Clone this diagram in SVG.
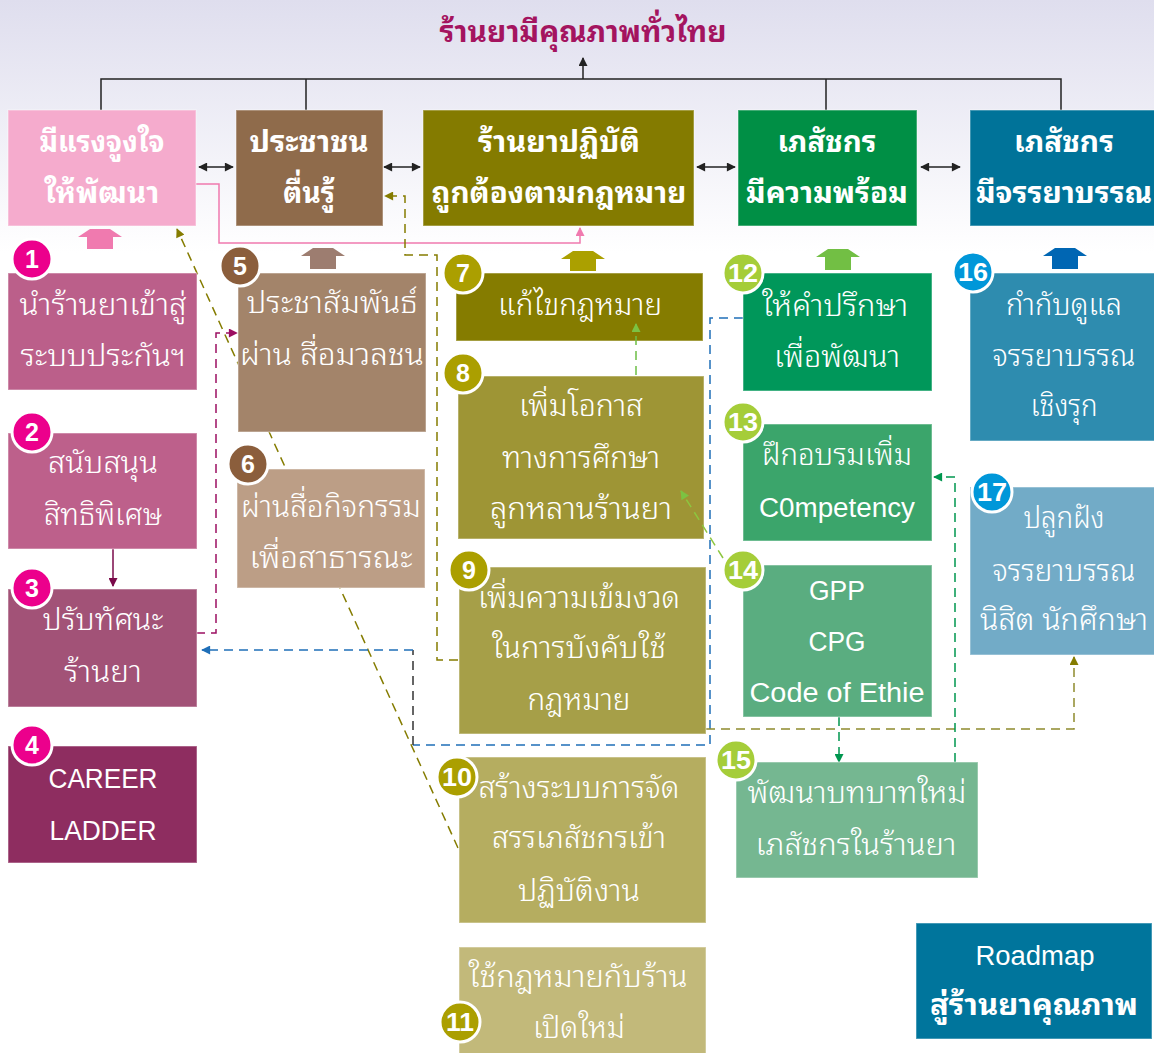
<svg xmlns="http://www.w3.org/2000/svg" width="1154" height="1053" viewBox="0 0 1154 1053">
<defs>
<linearGradient id="bg" x1="0" y1="0" x2="0" y2="1053" gradientUnits="userSpaceOnUse">
<stop offset="0" stop-color="#dfdeee"/><stop offset="0.24" stop-color="#ffffff"/><stop offset="1" stop-color="#ffffff"/>
</linearGradient>
<marker id="aK" viewBox="0 0 10 10" refX="9" refY="5" markerWidth="10" markerHeight="9" markerUnits="userSpaceOnUse" orient="auto-start-reverse"><path d="M0,0 L10,5 L0,10 Z" fill="#222"/></marker>
<marker id="aP" viewBox="0 0 10 10" refX="9" refY="5" markerWidth="10" markerHeight="9" markerUnits="userSpaceOnUse" orient="auto"><path d="M0,0 L10,5 L0,10 Z" fill="#f07aaf"/></marker>
<marker id="aO" viewBox="0 0 10 10" refX="9" refY="5" markerWidth="10" markerHeight="9" markerUnits="userSpaceOnUse" orient="auto"><path d="M0,0 L10,5 L0,10 Z" fill="#857c00"/></marker>
<marker id="aM" viewBox="0 0 10 10" refX="9" refY="5" markerWidth="10" markerHeight="9" markerUnits="userSpaceOnUse" orient="auto"><path d="M0,0 L10,5 L0,10 Z" fill="#9c0f62"/></marker>
<marker id="aB" viewBox="0 0 10 10" refX="9" refY="5" markerWidth="10" markerHeight="9" markerUnits="userSpaceOnUse" orient="auto"><path d="M0,0 L10,5 L0,10 Z" fill="#1f6fb8"/></marker>
<marker id="aG" viewBox="0 0 10 10" refX="9" refY="5" markerWidth="10" markerHeight="9" markerUnits="userSpaceOnUse" orient="auto"><path d="M0,0 L10,5 L0,10 Z" fill="#00964f"/></marker>
<marker id="aL" viewBox="0 0 10 10" refX="9" refY="5" markerWidth="10" markerHeight="9" markerUnits="userSpaceOnUse" orient="auto"><path d="M0,0 L10,5 L0,10 Z" fill="#7cc242"/></marker>
<marker id="aD" viewBox="0 0 10 10" refX="9" refY="5" markerWidth="10" markerHeight="9" markerUnits="userSpaceOnUse" orient="auto"><path d="M0,0 L10,5 L0,10 Z" fill="#7a0a4a"/></marker>
</defs>
<style>
.t{font-family:"Noto Sans Thai Looped","Noto Sans Thai","Noto Sans","DejaVu Sans",sans-serif;fill:#fff;font-size:30px;font-weight:300;text-anchor:middle}
.b{font-weight:bold}
.lat{font-family:"Liberation Sans",Arial,sans-serif;font-size:27px;fill:#fff;text-anchor:middle}
.num{font-family:"Liberation Sans",Arial,sans-serif;font-weight:bold;font-size:25px;fill:#fff;text-anchor:middle}
.box{stroke:#ffffff;stroke-opacity:0.35;stroke-width:1.5}
.c{stroke:#fff;stroke-width:3}
.ln{fill:none;stroke-width:1.5}
.dash{stroke-dasharray:9 6}
</style>
<rect x="0" y="0" width="1154" height="1053" fill="url(#bg)"/>

<text x="583" y="42" class="t b" style="fill:#a4145f;font-size:30px" textLength="287" lengthAdjust="spacingAndGlyphs">ร้านยามีคุณภาพทั่วไทย</text>

<g id="connectors">
<path class="ln" stroke="#222" d="M101,110 V79 H1061 V110 M306,79 V110 M826,79 V110"/>
<path class="ln" stroke="#222" d="M583,79 V58" marker-end="url(#aK)"/>
<path class="ln" stroke="#222" d="M199,167 H233" marker-start="url(#aK)" marker-end="url(#aK)"/>
<path class="ln" stroke="#222" d="M384,167 H420" marker-start="url(#aK)" marker-end="url(#aK)"/>
<path class="ln" stroke="#222" d="M697,167 H735" marker-start="url(#aK)" marker-end="url(#aK)"/>
<path class="ln" stroke="#222" d="M921,167 H960" marker-start="url(#aK)" marker-end="url(#aK)"/>
<path class="ln" stroke="#f07aaf" d="M196,184 H219 V243 H580 V228" marker-end="url(#aP)"/>
<path class="ln dash" stroke="#857c00" d="M458,848 L177,229" marker-end="url(#aO)"/>
<path class="ln dash" stroke="#857c00" d="M458,660 H437 V255 H405 V196 H385" marker-end="url(#aO)"/>
<path class="ln dash" stroke="#9c0f62" d="M196,633 H216 V333 H237" marker-end="url(#aM)"/>
<path class="ln dash" stroke="#1f6fb8" d="M743,318 H710 V745 H413"/>
<path class="ln dash" stroke="#333" d="M413,745 V650"/>
<path class="ln dash" stroke="#1f6fb8" d="M413,650 H202" marker-end="url(#aB)"/>
<path class="ln dash" stroke="#8f8a2e" d="M706,729 H1074 V657" marker-end="url(#aO)"/>
<path class="ln dash" stroke="#00964f" d="M839,717 V762" marker-end="url(#aG)"/>
<path class="ln dash" stroke="#00964f" d="M955,762 V477 H934" marker-end="url(#aG)"/>
<path class="ln" stroke="#7a0a4a" d="M113,549 V586" marker-end="url(#aD)"/>
</g>

<g id="top1"><rect x="8" y="110" width="188" height="116" fill="#f5abcd" class="box"/>
<text x="102" y="152" class="t b" textLength="125" lengthAdjust="spacingAndGlyphs">มีแรงจูงใจ</text>
<text x="102" y="203" class="t b" textLength="115" lengthAdjust="spacingAndGlyphs">ให้พัฒนา</text></g>
<g id="top2"><rect x="236" y="110" width="147" height="116" fill="#8f6b4b" class="box"/>
<text x="309" y="152" class="t b" textLength="119" lengthAdjust="spacingAndGlyphs">ประชาชน</text>
<text x="309" y="203" class="t b" textLength="52" lengthAdjust="spacingAndGlyphs">ตื่นรู้</text></g>
<g id="top3"><rect x="423" y="110" width="271" height="116" fill="#847b00" class="box"/>
<text x="559" y="152" class="t b" textLength="162" lengthAdjust="spacingAndGlyphs">ร้านยาปฏิบัติ</text>
<text x="559" y="203" class="t b" textLength="255" lengthAdjust="spacingAndGlyphs">ถูกต้องตามกฎหมาย</text></g>
<g id="top4"><rect x="738" y="110" width="179" height="116" fill="#008f45" class="box"/>
<text x="827" y="152" class="t b" textLength="99" lengthAdjust="spacingAndGlyphs">เภสัชกร</text>
<text x="827" y="203" class="t b" textLength="162" lengthAdjust="spacingAndGlyphs">มีความพร้อม</text></g>
<g id="top5"><rect x="970" y="110" width="186" height="116" fill="#007399" class="box"/>
<text x="1064" y="152" class="t b" textLength="100" lengthAdjust="spacingAndGlyphs">เภสัชกร</text>
<text x="1064" y="203" class="t b" textLength="176" lengthAdjust="spacingAndGlyphs">มีจรรยาบรรณ</text></g>

<g id="up-arrows">
<polygon fill="#f07aaf" points="78,237 90,229 110,229 122,237 113,237 113,249 87,249 87,237"/>
<polygon fill="#9d7d70" points="301,256 313,248 333,248 345,256 336,256 336,269 310,269 310,256"/>
<polygon fill="#aba000" points="561,259 573,251 593,251 605,259 596,259 596,271 570,271 570,259"/>
<polygon fill="#72bf44" points="816,257 828,249 848,249 860,257 851,257 851,270 825,270 825,257"/>
<polygon fill="#0066b3" points="1043,256 1055,248 1075,248 1087,256 1078,256 1078,269 1052,269 1052,256"/>
</g>

<g id="n1"><rect x="8" y="273" width="189" height="117" fill="#bb5f8a" class="box"/>
<text x="103" y="315" class="t" textLength="167" lengthAdjust="spacingAndGlyphs">นำร้านยาเข้าสู่</text>
<text x="103" y="366" class="t" textLength="165" lengthAdjust="spacingAndGlyphs">ระบบประกันฯ</text>
<circle cx="32" cy="259" r="20" fill="#ec008c" class="c"/><text x="32" y="268" class="num">1</text></g>
<g id="n2"><rect x="8" y="433" width="189" height="116" fill="#bd608b" class="box"/>
<text x="103" y="473" class="t" textLength="110" lengthAdjust="spacingAndGlyphs">สนับสนุน</text>
<text x="103" y="525" class="t" textLength="118" lengthAdjust="spacingAndGlyphs">สิทธิพิเศษ</text>
<circle cx="32" cy="432" r="20" fill="#ec008c" class="c"/><text x="32" y="441" class="num">2</text></g>
<g id="n3"><rect x="8" y="589" width="189" height="118" fill="#a25277" class="box"/>
<text x="103" y="630" class="t" textLength="121" lengthAdjust="spacingAndGlyphs">ปรับทัศนะ</text>
<text x="103" y="682" class="t" textLength="78" lengthAdjust="spacingAndGlyphs">ร้านยา</text>
<circle cx="32" cy="588" r="20" fill="#ec008c" class="c"/><text x="32" y="597" class="num">3</text></g>
<g id="n4"><rect x="8" y="746" width="189" height="117" fill="#8e2d60" class="box"/>
<text x="103" y="788" class="lat" textLength="109" lengthAdjust="spacingAndGlyphs">CAREER</text>
<text x="103" y="840" class="lat" textLength="107" lengthAdjust="spacingAndGlyphs">LADDER</text>
<circle cx="32" cy="745" r="20" fill="#ec008c" class="c"/><text x="32" y="754" class="num">4</text></g>

<g id="n5"><rect x="238" y="273" width="188" height="159" fill="#a3846a" class="box"/>
<text x="332" y="313" class="t" textLength="171" lengthAdjust="spacingAndGlyphs">ประชาสัมพันธ์</text>
<text x="332" y="365" class="t" textLength="184" lengthAdjust="spacingAndGlyphs">ผ่าน สื่อมวลชน</text>
<circle cx="240" cy="266" r="20" fill="#8b5e3c" class="c"/><text x="240" y="275" class="num">5</text></g>
<g id="n6"><rect x="237" y="469" width="188" height="119" fill="#bc9e86" class="box"/>
<text x="331" y="517" class="t" textLength="180" lengthAdjust="spacingAndGlyphs">ผ่านสื่อกิจกรรม</text>
<text x="331" y="568" class="t" textLength="163" lengthAdjust="spacingAndGlyphs">เพื่อสาธารณะ</text>
<circle cx="248" cy="464" r="20" fill="#8b5e3c" class="c"/><text x="248" y="473" class="num">6</text></g>

<g id="n7"><rect x="456" y="273" width="247" height="68" fill="#857c00" class="box"/>
<text x="580" y="315" class="t" textLength="164" lengthAdjust="spacingAndGlyphs">แก้ไขกฎหมาย</text>
<circle cx="463" cy="273" r="20" fill="#ab9f00" class="c"/><text x="463" y="282" class="num">7</text></g>
<g id="n8"><rect x="458" y="376" width="246" height="163" fill="#9e9535" class="box"/>
<text x="581" y="416" class="t" textLength="124" lengthAdjust="spacingAndGlyphs">เพิ่มโอกาส</text>
<text x="581" y="468" class="t" textLength="158" lengthAdjust="spacingAndGlyphs">ทางการศึกษา</text>
<text x="581" y="519" class="t" textLength="182" lengthAdjust="spacingAndGlyphs">ลูกหลานร้านยา</text>
<circle cx="463" cy="373" r="20" fill="#ab9f00" class="c"/><text x="463" y="382" class="num">8</text></g>
<g id="n9"><rect x="459" y="567" width="247" height="167" fill="#a69f48" class="box"/>
<text x="579" y="608" class="t" textLength="202" lengthAdjust="spacingAndGlyphs">เพิ่มความเข้มงวด</text>
<text x="579" y="658" class="t" textLength="174" lengthAdjust="spacingAndGlyphs">ในการบังคับใช้</text>
<text x="579" y="710" class="t" textLength="103" lengthAdjust="spacingAndGlyphs">กฎหมาย</text>
<circle cx="469" cy="570" r="20" fill="#ab9f00" class="c"/><text x="469" y="579" class="num">9</text></g>
<g id="n10"><rect x="459" y="757" width="247" height="166" fill="#b5ad60" class="box"/>
<text x="579" y="798" class="t" textLength="201" lengthAdjust="spacingAndGlyphs">สร้างระบบการจัด</text>
<text x="579" y="848" class="t" textLength="174" lengthAdjust="spacingAndGlyphs">สรรเภสัชกรเข้า</text>
<text x="579" y="901" class="t" textLength="122" lengthAdjust="spacingAndGlyphs">ปฏิบัติงาน</text>
<circle cx="457" cy="777" r="20" fill="#ab9f00" class="c"/><text x="457" y="786" class="num" textLength="30" lengthAdjust="spacingAndGlyphs">10</text></g>
<g id="n11"><rect x="459" y="947" width="247" height="108" fill="#c2b97a" class="box"/>
<text x="578" y="987" class="t" textLength="219" lengthAdjust="spacingAndGlyphs">ใช้กฎหมายกับร้าน</text>
<text x="579" y="1038" class="t" textLength="92" lengthAdjust="spacingAndGlyphs">เปิดใหม่</text>
<circle cx="460" cy="1022" r="20" fill="#ab9f00" class="c"/><text x="460" y="1031" class="num" textLength="28" lengthAdjust="spacingAndGlyphs">11</text></g>

<g id="n12"><rect x="743" y="273" width="189" height="118" fill="#00975a" class="box"/>
<text x="835" y="316" class="t" textLength="146" lengthAdjust="spacingAndGlyphs">ให้คำปรึกษา</text>
<text x="837" y="367" class="t" textLength="126" lengthAdjust="spacingAndGlyphs">เพื่อพัฒนา</text>
<circle cx="743" cy="273" r="20" fill="#a5cd39" class="c"/><text x="743" y="282" class="num" textLength="30" lengthAdjust="spacingAndGlyphs">12</text></g>
<g id="n13"><rect x="743" y="424" width="189" height="117" fill="#3ba56b" class="box"/>
<text x="837" y="465" class="t" textLength="150" lengthAdjust="spacingAndGlyphs">ฝึกอบรมเพิ่ม</text>
<text x="837" y="517" class="lat" textLength="156" lengthAdjust="spacingAndGlyphs">C0mpetency</text>
<circle cx="743" cy="422" r="20" fill="#a5cd39" class="c"/><text x="743" y="431" class="num" textLength="30" lengthAdjust="spacingAndGlyphs">13</text></g>
<g id="n14"><rect x="743" y="565" width="189" height="152" fill="#5aad80" class="box"/>
<text x="837" y="600" class="lat" textLength="56" lengthAdjust="spacingAndGlyphs">GPP</text>
<text x="837" y="651" class="lat" textLength="57" lengthAdjust="spacingAndGlyphs">CPG</text>
<text x="837" y="702" class="lat" textLength="175" lengthAdjust="spacingAndGlyphs">Code of Ethie</text>
<circle cx="743" cy="570" r="20" fill="#a5cd39" class="c"/><text x="743" y="579" class="num" textLength="30" lengthAdjust="spacingAndGlyphs">14</text></g>
<g id="n15"><rect x="736" y="762" width="242" height="116" fill="#75b791" class="box"/>
<text x="857" y="803" class="t" textLength="219" lengthAdjust="spacingAndGlyphs">พัฒนาบทบาทใหม่</text>
<text x="856" y="855" class="t" textLength="201" lengthAdjust="spacingAndGlyphs">เภสัชกรในร้านยา</text>
<circle cx="736" cy="760" r="20" fill="#a5cd39" class="c"/><text x="736" y="769" class="num" textLength="30" lengthAdjust="spacingAndGlyphs">15</text></g>

<g id="n16"><rect x="970" y="273" width="186" height="168" fill="#2e8caf" class="box"/>
<text x="1064" y="315" class="t" textLength="116" lengthAdjust="spacingAndGlyphs">กำกับดูแล</text>
<text x="1064" y="366" class="t" textLength="143" lengthAdjust="spacingAndGlyphs">จรรยาบรรณ</text>
<text x="1064" y="416" class="t" textLength="67" lengthAdjust="spacingAndGlyphs">เชิงรุก</text>
<circle cx="973" cy="272" r="20" fill="#0097d9" class="c"/><text x="973" y="281" class="num" textLength="30" lengthAdjust="spacingAndGlyphs">16</text></g>
<g id="n17"><rect x="970" y="487" width="186" height="168" fill="#72abc7" class="box"/>
<text x="1064" y="528" class="t" textLength="81" lengthAdjust="spacingAndGlyphs">ปลูกฝัง</text>
<text x="1064" y="581" class="t" textLength="143" lengthAdjust="spacingAndGlyphs">จรรยาบรรณ</text>
<text x="1064" y="630" class="t" textLength="168" lengthAdjust="spacingAndGlyphs">นิสิต นักศึกษา</text>
<circle cx="992" cy="492" r="20" fill="#0097d9" class="c"/><text x="992" y="501" class="num" textLength="30" lengthAdjust="spacingAndGlyphs">17</text></g>

<g id="roadmap"><rect x="916" y="923" width="236" height="116" fill="#00759c" class="box"/>
<text x="1035" y="965" class="lat" textLength="119" lengthAdjust="spacingAndGlyphs">Roadmap</text>
<text x="1034" y="1015" class="t b" textLength="208" lengthAdjust="spacingAndGlyphs">สู่ร้านยาคุณภาพ</text></g>

<g id="connectors-front">
<path class="ln dash" stroke="#6cbe45" d="M636,375 V324" marker-end="url(#aL)"/>
<path class="ln dash" stroke="#8dc63f" d="M723,558 L681,491" marker-end="url(#aL)"/>
</g>
</svg>
